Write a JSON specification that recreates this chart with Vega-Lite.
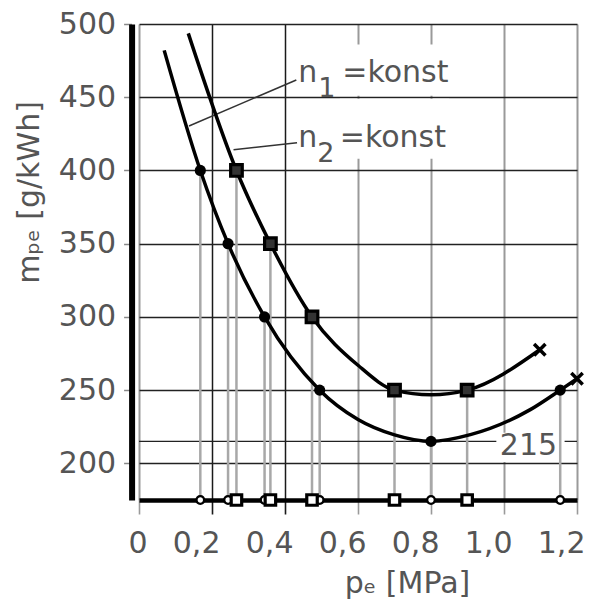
{
  "$schema": "https://vega.github.io/schema/vega-lite/v6.json",
  "width": 438,
  "height": 476,
  "autosize": "none",
  "padding": {"left": 139, "top": 24, "right": 14, "bottom": 106},
  "background": "white",
  "config": {"view": {"stroke": null}, "font": "DejaVu Sans"},
  "datasets": {
    "curve": [
      {"s": "n1", "x": 0.069, "y": 482},
      {"s": "n1", "x": 0.168, "y": 400},
      {"s": "n1", "x": 0.244, "y": 350},
      {"s": "n1", "x": 0.344, "y": 300},
      {"s": "n1", "x": 0.495, "y": 250},
      {"s": "n1", "x": 0.6, "y": 230},
      {"s": "n1", "x": 0.7, "y": 219.5},
      {"s": "n1", "x": 0.8, "y": 215},
      {"s": "n1", "x": 0.908, "y": 219.6},
      {"s": "n1", "x": 1.072, "y": 236.7},
      {"s": "n1", "x": 1.154, "y": 250},
      {"s": "n1", "x": 1.2, "y": 257.8},
      {"s": "n2", "x": 0.135, "y": 493.6},
      {"s": "n2", "x": 0.267, "y": 400},
      {"s": "n2", "x": 0.36, "y": 350},
      {"s": "n2", "x": 0.474, "y": 300},
      {"s": "n2", "x": 0.6, "y": 267},
      {"s": "n2", "x": 0.7, "y": 250},
      {"s": "n2", "x": 0.8, "y": 246.8},
      {"s": "n2", "x": 0.899, "y": 250},
      {"s": "n2", "x": 1.098, "y": 277.6}
    ],
    "pts": [
      {"s": "n1", "x": 0.168, "y": 400},
      {"s": "n1", "x": 0.244, "y": 350},
      {"s": "n1", "x": 0.344, "y": 300},
      {"s": "n1", "x": 0.495, "y": 250},
      {"s": "n1", "x": 0.8, "y": 215},
      {"s": "n1", "x": 1.154, "y": 250},
      {"s": "n2", "x": 0.267, "y": 400},
      {"s": "n2", "x": 0.36, "y": 350},
      {"s": "n2", "x": 0.474, "y": 300},
      {"s": "n2", "x": 0.7, "y": 250},
      {"s": "n2", "x": 0.899, "y": 250}
    ],
    "ends": [{"x": 1.2, "y": 257.8}, {"x": 1.098, "y": 277.6}],
    "masks": [
      {"x": 0.55, "x2": 0.85, "y": 408, "y2": 449},
      {"x": 0.55, "x2": 0.85, "y": 451, "y2": 486},
      {"x": 0.979, "x2": 1.166, "y": 201, "y2": 221}
    ],
    "ref": [{"x": 0, "x2": 1.2, "y": 215}],
    "leaders": [
      {"x": 0.137, "y": 430.4, "x2": 0.431, "y2": 461.8},
      {"x": 0.259, "y": 414.1, "x2": 0.433, "y2": 419}
    ],
    "labels": [
      {"t": "n", "x": 0.436, "y": 460.4},
      {"t": "=konst", "x": 0.557, "y": 460.4},
      {"t": "n", "x": 0.436, "y": 416},
      {"t": "=konst", "x": 0.55, "y": 416}
    ],
    "subs": [
      {"t": "1", "x": 0.491, "y": 460.4},
      {"t": "2", "x": 0.4885, "y": 416}
    ],
    "val": [{"t": "215", "x": 1.067, "y": 205.7}]
  },
  "encoding": {
    "x": {
      "field": "x", "type": "quantitative",
      "scale": {"domain": [0, 1.2], "nice": false, "zero": false},
      "axis": {
        "values": [0, 0.2, 0.4, 0.6, 0.8, 1.0, 1.2],
        "labelExpr": "datum.value == 0 ? '0' : replace(format(datum.value, '.1f'), '.', ',')",
        "grid": true,
        "gridColor": {"condition": {"test": "datum.value > 0.1 && datum.value < 0.5", "value": "#1a1a1a"}, "value": "#9a9a9a"},
        "gridWidth": {"condition": {"test": "datum.value > 0.1 && datum.value < 0.5", "value": 1.5}, "value": 2},
        "tickColor": {"condition": {"test": "datum.value > 0.1 && datum.value < 0.5", "value": "#1a1a1a"}, "value": "#9a9a9a"},
        "tickWidth": 1.6,
        "tickSize": 14,
        "domainColor": "black",
        "domainWidth": 4.5,
        "labelFontSize": 30,
        "labelColor": "#555555",
        "labelPadding": 14,
        "labelAlign": "right",
        "labelOffset": 8,
        "labelBaseline": "top",
        "labelFlush": false,
        "labelOverlap": false,
        "title": "pₑ [MPa]",
        "titleFontSize": 30,
        "titleFontWeight": "normal",
        "titleColor": "#555555",
        "titleX": 268,
        "titleY": 92,
        "titleBaseline": "alphabetic",
        "titleAlign": "center"
      }
    },
    "y": {
      "field": "y", "type": "quantitative",
      "scale": {"domain": [175, 500], "nice": false, "zero": false},
      "axis": {
        "values": [200, 250, 300, 350, 400, 450, 500],
        "offset": 7.4,
        "domainColor": "black",
        "domainWidth": 6,
        "grid": true,
        "gridColor": "#222222",
        "gridWidth": 1.3,
        "tickSize": 8,
        "tickColor": "#888888",
        "tickWidth": 1.5,
        "labelFontSize": 30,
        "labelColor": "#555555",
        "labelPadding": 8,
        "labelOverlap": false,
        "labelFlush": false,
        "title": "mₚₑ [g/kWh]",
        "titleFontSize": 30,
        "titleFontWeight": "normal",
        "titleColor": "#555555",
        "titleX": -101.7,
        "titleY": 168,
        "titleAngle": -90,
        "titleBaseline": "middle",
        "titleAlign": "center"
      }
    }
  },
  "layer": [
    {
      "data": {"name": "ref"},
      "mark": {"type": "rule", "color": "#222222", "strokeWidth": 1.3},
      "encoding": {"x2": {"field": "x2"}}
    },
    {
      "data": {"name": "masks"},
      "mark": {"type": "rect", "color": "white", "strokeWidth": 0},
      "encoding": {"x2": {"field": "x2"}, "y2": {"field": "y2"}}
    },
    {
      "data": {"name": "pts"},
      "mark": {"type": "rule", "color": "#a8a8a8", "strokeWidth": 2.5},
      "encoding": {"y2": {"datum": 175}}
    },
    {
      "data": {"name": "leaders"},
      "mark": {"type": "rule", "color": "#333333", "strokeWidth": 1.5},
      "encoding": {"x2": {"field": "x2"}, "y2": {"field": "y2"}}
    },
    {
      "data": {"name": "curve"},
      "mark": {"type": "line", "color": "black", "strokeWidth": 3.5, "interpolate": "monotone"},
      "encoding": {"detail": {"field": "s"}}
    },
    {
      "data": {"name": "pts"},
      "transform": [{"filter": "datum.s == 'n1'"}],
      "mark": {"type": "point", "shape": "circle", "filled": true, "color": "black", "size": 125, "opacity": 1}
    },
    {
      "data": {"name": "pts"},
      "transform": [{"filter": "datum.s == 'n2'"}],
      "mark": {"type": "point", "shape": "square", "filled": false, "fill": "#333333", "stroke": "black", "strokeWidth": 3.2, "size": 135, "opacity": 1, "fillOpacity": 1}
    },
    {
      "data": {"name": "pts"},
      "transform": [{"filter": "datum.s == 'n1'"}],
      "mark": {"type": "point", "shape": "circle", "filled": false, "fill": "white", "stroke": "black", "strokeWidth": 2.4, "size": 60, "opacity": 1, "fillOpacity": 1},
      "encoding": {"y": {"datum": 175}}
    },
    {
      "data": {"name": "pts"},
      "transform": [{"filter": "datum.s == 'n2'"}],
      "mark": {"type": "point", "shape": "square", "filled": false, "fill": "white", "stroke": "black", "strokeWidth": 3.2, "size": 110, "opacity": 1, "fillOpacity": 1},
      "encoding": {"y": {"datum": 175}}
    },
    {
      "data": {"name": "ends"},
      "mark": {"type": "point", "shape": "M-1,-1L1,1M1,-1L-1,1", "filled": false, "stroke": "black", "strokeWidth": 3.5, "size": 130, "opacity": 1}
    },
    {
      "data": {"name": "labels"},
      "mark": {"type": "text", "align": "left", "baseline": "alphabetic", "fontSize": 30, "color": "#555555"},
      "encoding": {"text": {"field": "t"}}
    },
    {
      "data": {"name": "subs"},
      "mark": {"type": "text", "align": "left", "baseline": "alphabetic", "fontSize": 27, "dy": 15, "color": "#555555"},
      "encoding": {"text": {"field": "t"}}
    },
    {
      "data": {"name": "val"},
      "mark": {"type": "text", "align": "center", "baseline": "alphabetic", "fontSize": 30, "color": "#555555"},
      "encoding": {"text": {"field": "t"}}
    }
  ]
}
